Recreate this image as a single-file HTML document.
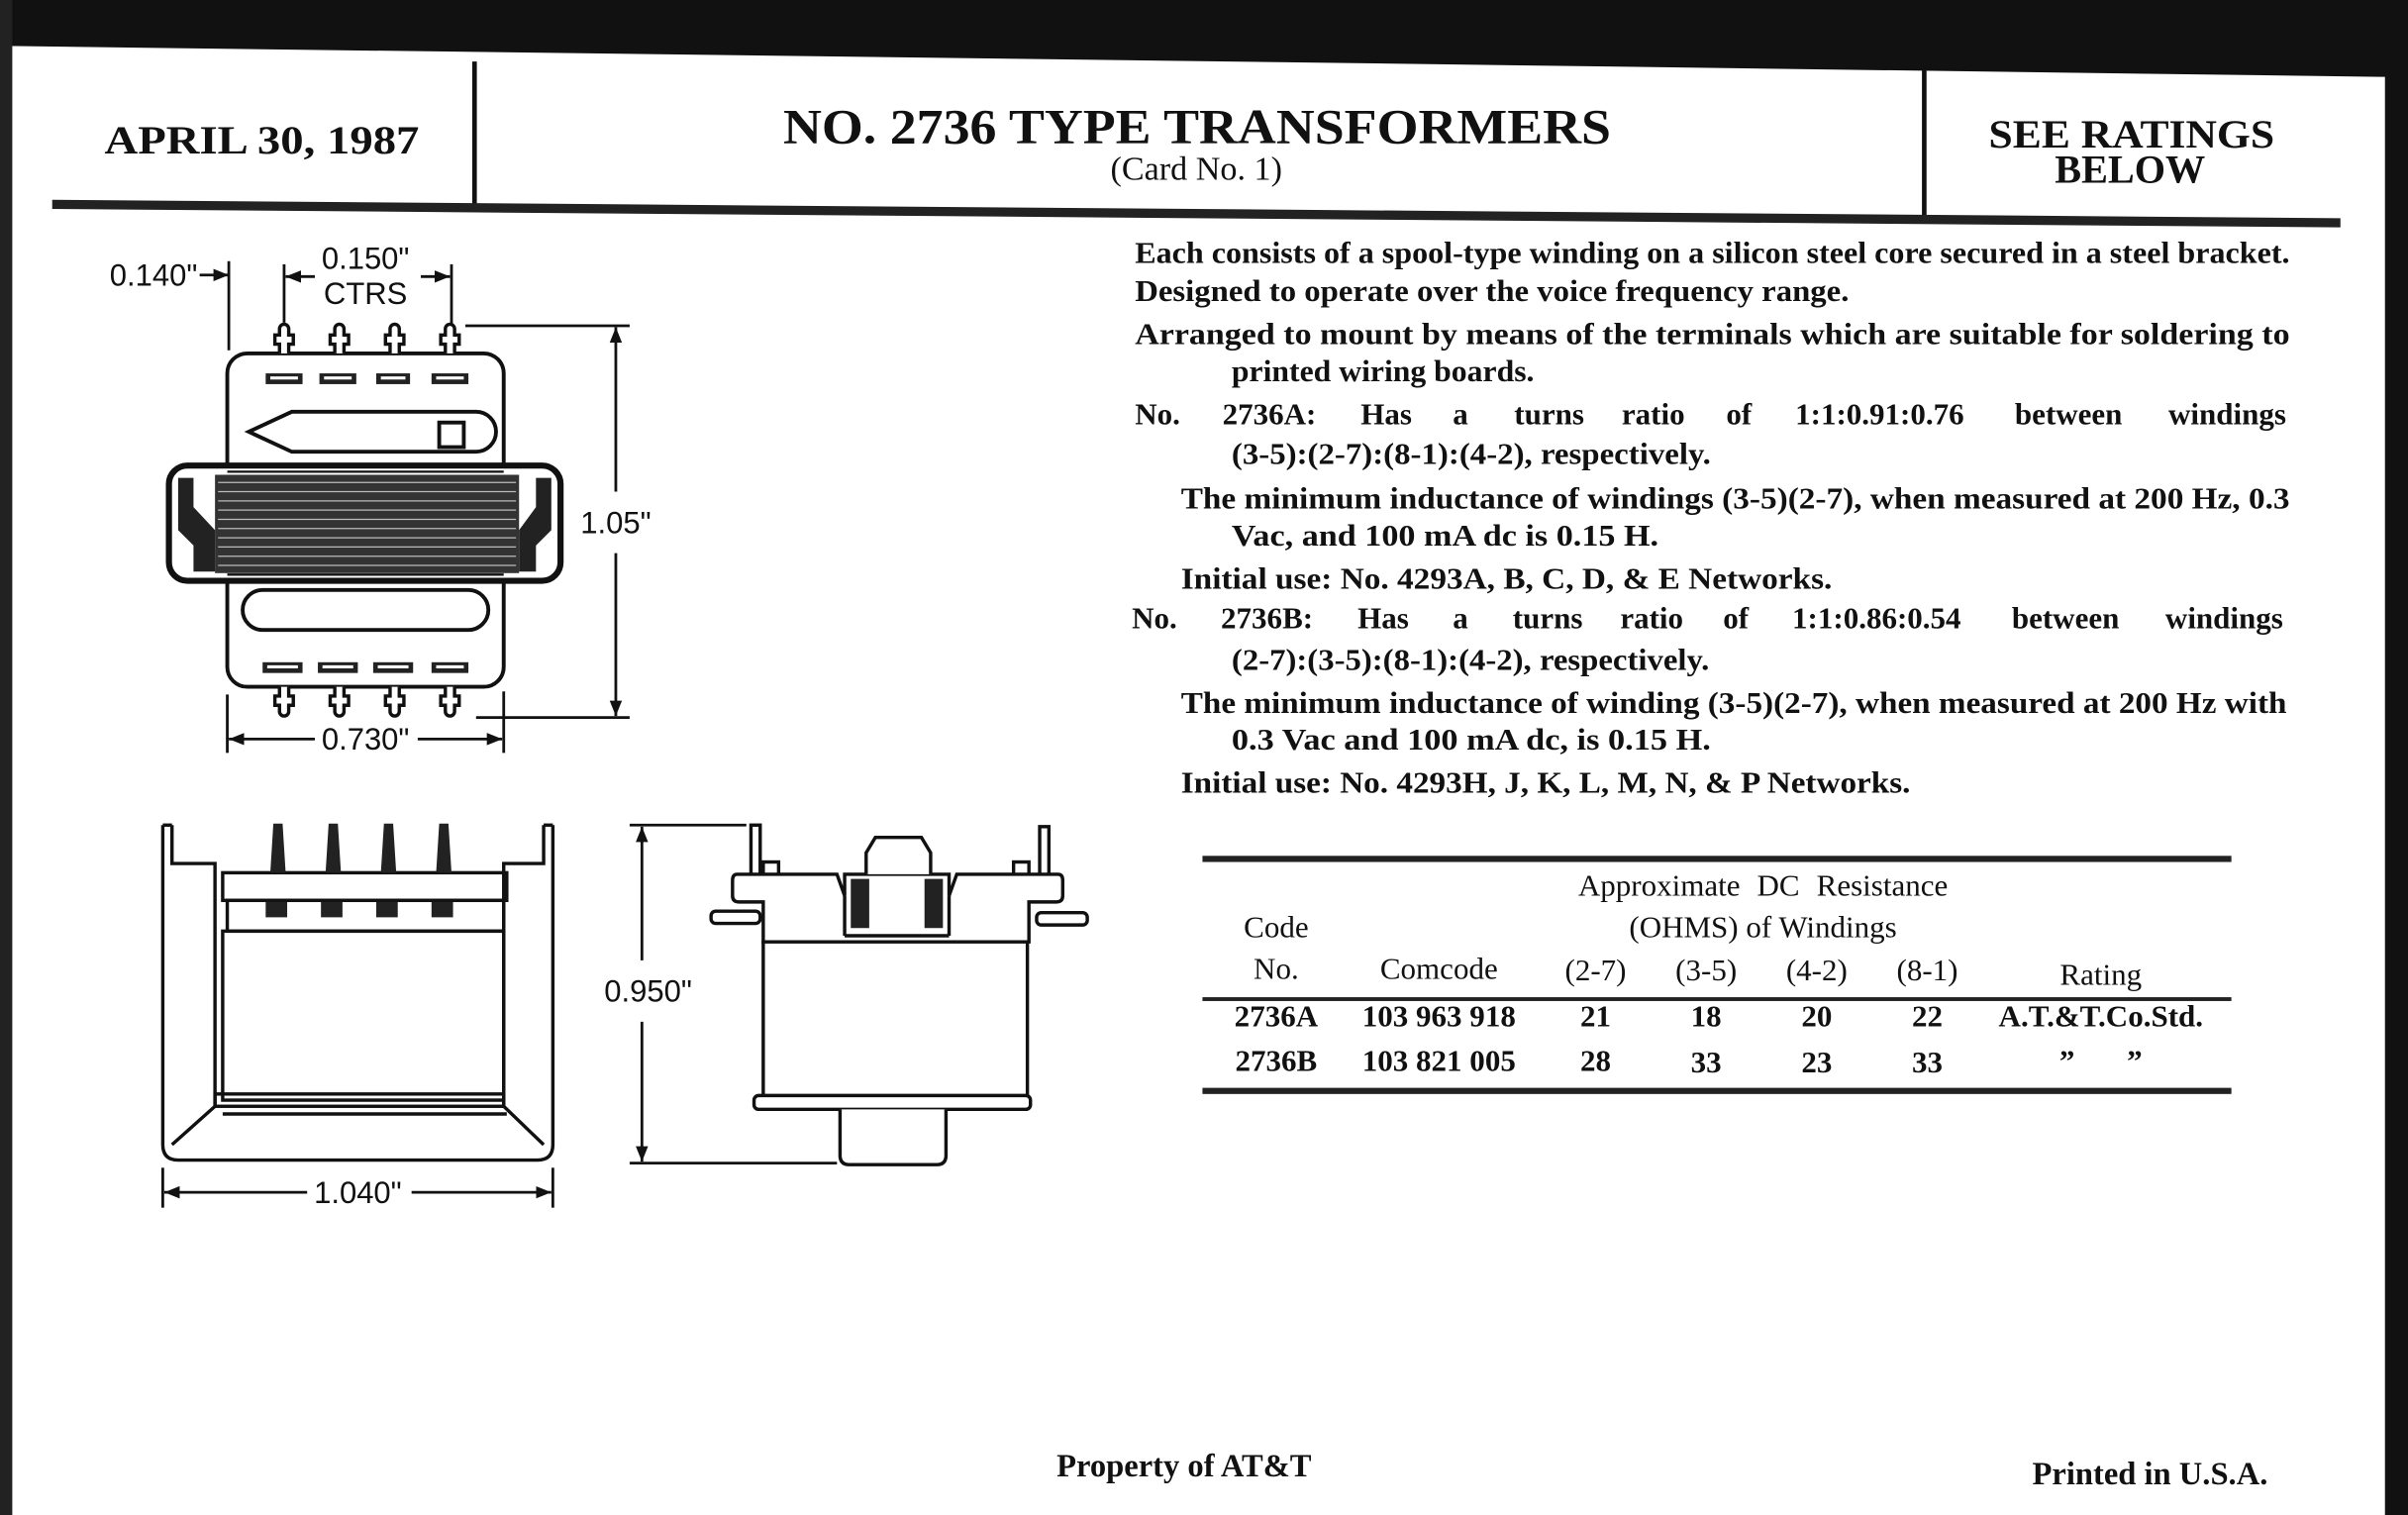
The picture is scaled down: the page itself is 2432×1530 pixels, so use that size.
<!DOCTYPE html>
<html><head><meta charset="utf-8"><style>
html,body{margin:0;padding:0;background:#fff;}
svg{display:block;}
text{font-family:"Liberation Serif",serif;fill:#111;}
svg text.s{font-family:"Liberation Sans",sans-serif;font-weight:normal;}
.b{font-weight:bold;}
</style></head><body>
<svg width="2432" height="1530" viewBox="0 0 1568 986" preserveAspectRatio="none" xmlns="http://www.w3.org/2000/svg">
<rect x="0" y="0" width="1568" height="986" fill="#fff"/>
<polygon points="0,0 1568,0 1568,50 1550,50 800,40 10,30 0,30" fill="#111"/>
<rect x="0" y="0" width="8" height="986" fill="#222"/>
<rect x="1553" y="0" width="15" height="986" fill="#111"/>

<!-- header -->
<line x1="309" y1="40" x2="309" y2="133" stroke="#111" stroke-width="3"/>
<line x1="1253" y1="44" x2="1253" y2="141" stroke="#111" stroke-width="3"/>
<polygon points="34,130 1524,142 1524,148 34,136" fill="#222"/>
<text x="68" y="100" font-size="26" class="b" textLength="205" lengthAdjust="spacingAndGlyphs">APRIL 30, 1987</text>
<text x="510" y="93" font-size="32" class="b" textLength="539" lengthAdjust="spacingAndGlyphs">NO. 2736 TYPE TRANSFORMERS</text>
<text x="779" y="117" font-size="22" text-anchor="middle">(Card No. 1)</text>
<text x="1295" y="96" font-size="26" class="b" textLength="186" lengthAdjust="spacingAndGlyphs">SEE RATINGS</text>
<text x="1338" y="119" font-size="26" class="b" textLength="98" lengthAdjust="spacingAndGlyphs">BELOW</text>

<!-- body text -->
<g font-size="20" class="b">
<text x="739" y="171" textLength="752" lengthAdjust="spacingAndGlyphs">Each consists of a spool-type winding on a silicon steel core secured in a steel bracket.</text>
<text x="739" y="196" textLength="465" lengthAdjust="spacingAndGlyphs">Designed to operate over the voice frequency range.</text>
<text x="739" y="224" textLength="752" lengthAdjust="spacingAndGlyphs">Arranged to mount by means of the terminals which are suitable for soldering to</text>
<text x="802" y="248" textLength="197" lengthAdjust="spacingAndGlyphs">printed wiring boards.</text>
<text y="276"><tspan x="739">No.</tspan><tspan x="796">2736A:</tspan><tspan x="886">Has</tspan><tspan x="946">a</tspan><tspan x="986">turns</tspan><tspan x="1056">ratio</tspan><tspan x="1124">of</tspan><tspan x="1169">1:1:0.91:0.76</tspan><tspan x="1312">between</tspan><tspan x="1412">windings</tspan></text>
<text x="802" y="302" textLength="312" lengthAdjust="spacingAndGlyphs">(3-5):(2-7):(8-1):(4-2), respectively.</text>
<text x="769" y="331" textLength="722" lengthAdjust="spacingAndGlyphs">The minimum inductance of windings (3-5)(2-7), when measured at 200 Hz, 0.3</text>
<text x="802" y="355" textLength="278" lengthAdjust="spacingAndGlyphs">Vac, and 100 mA dc is 0.15 H.</text>
<text x="769" y="383" textLength="424" lengthAdjust="spacingAndGlyphs">Initial use: No. 4293A, B, C, D, &amp; E Networks.</text>
<text y="409"><tspan x="737">No.</tspan><tspan x="795">2736B:</tspan><tspan x="884">Has</tspan><tspan x="946">a</tspan><tspan x="985">turns</tspan><tspan x="1055">ratio</tspan><tspan x="1122">of</tspan><tspan x="1167">1:1:0.86:0.54</tspan><tspan x="1310">between</tspan><tspan x="1410">windings</tspan></text>
<text x="802" y="436" textLength="311" lengthAdjust="spacingAndGlyphs">(2-7):(3-5):(8-1):(4-2), respectively.</text>
<text x="769" y="464" textLength="720" lengthAdjust="spacingAndGlyphs">The minimum inductance of winding (3-5)(2-7), when measured at 200 Hz with</text>
<text x="802" y="488" textLength="312" lengthAdjust="spacingAndGlyphs">0.3 Vac and 100 mA dc, is 0.15 H.</text>
<text x="769" y="516" textLength="475" lengthAdjust="spacingAndGlyphs">Initial use: No. 4293H, J, K, L, M, N, &amp; P Networks.</text>
</g>

<!-- table -->
<rect x="783" y="557" width="670" height="4" fill="#222"/>
<rect x="783" y="649" width="670" height="2.5" fill="#222"/>
<rect x="783" y="708" width="670" height="4" fill="#222"/>
<g font-size="20" text-anchor="middle">
<text x="1148" y="583" word-spacing="6">Approximate DC Resistance</text>
<text x="1148" y="610">(OHMS) of Windings</text>
<text x="831" y="610">Code</text>
<text x="831" y="637">No.</text>
<text x="937" y="637">Comcode</text>
<text x="1039" y="638">(2-7)</text>
<text x="1111" y="638">(3-5)</text>
<text x="1183" y="638">(4-2)</text>
<text x="1255" y="638">(8-1)</text>
<text x="1368" y="641">Rating</text>
</g>
<g font-size="20" text-anchor="middle" class="b">
<text x="831" y="668">2736A</text><text x="937" y="668">103 963 918</text>
<text x="1039" y="668">21</text><text x="1111" y="668">18</text><text x="1183" y="668">20</text><text x="1255" y="668">22</text>
<text x="1368" y="668">A.T.&amp;T.Co.Std.</text>
<text x="831" y="697">2736B</text><text x="937" y="697">103 821 005</text>
<text x="1039" y="697">28</text><text x="1111" y="698">33</text><text x="1183" y="698">23</text><text x="1255" y="698">33</text>
<text x="1346" y="697">”</text><text x="1390" y="697">”</text>
</g>

<!-- footer -->
<text x="771" y="961" font-size="21" text-anchor="middle" class="b">Property of AT&amp;T</text>
<text x="1400" y="966" font-size="21" text-anchor="middle" class="b">Printed in U.S.A.</text>

<!-- TOP VIEW DRAWING -->
<defs>
<marker id="ar" viewBox="0 0 10 10" refX="10" refY="5" markerWidth="10" markerHeight="10" markerUnits="userSpaceOnUse" orient="auto-start-reverse"><path d="M0,1 L10,5 L0,9 z" fill="#111"/></marker>
<g id="term"><path d="M-3,0 v-6 h-3 v-6 h3 v-4 a3,3 0 0 1 6,0 v4 h3 v6 h-3 v6" fill="#fff" stroke="#111" stroke-width="2.2"/></g>
</defs>
<g stroke="#111" fill="none" stroke-width="2.5">
<rect x="148" y="230" width="180" height="217" rx="13"/>
<path d="M162,281 L190,268 L310,268 A13,13 0 0 1 310,294 L190,294 Z"/>
<rect x="286" y="275" width="16" height="16"/>
<rect x="158" y="384" width="160" height="26" rx="13"/>
<rect x="110" y="303" width="255" height="75" rx="12" fill="#fff" stroke-width="4"/>
<line x1="148" y1="307" x2="328" y2="307" stroke-width="1.5"/>
<line x1="148" y1="374" x2="328" y2="374" stroke-width="1.5"/>
</g>
<rect x="140" y="309" width="198" height="64" fill="#333"/>
<g stroke="#bbb" stroke-width="0.8">
<line x1="142" y1="314" x2="336" y2="314"/><line x1="142" y1="320" x2="336" y2="320"/><line x1="142" y1="326" x2="336" y2="326"/><line x1="142" y1="332" x2="336" y2="332"/><line x1="142" y1="338" x2="336" y2="338"/><line x1="142" y1="344" x2="336" y2="344"/><line x1="142" y1="350" x2="336" y2="350"/><line x1="142" y1="356" x2="336" y2="356"/><line x1="142" y1="362" x2="336" y2="362"/><line x1="142" y1="368" x2="336" y2="368"/>
</g>
<path d="M116,311 L126,311 L126,330 L140,345 L140,372 L126,372 L126,355 L116,345 Z" fill="#222"/>
<path d="M359,311 L349,311 L349,330 L338,345 L338,372 L349,372 L349,355 L359,345 Z" fill="#222"/>
<g fill="#222">
<rect x="173" y="243" width="24" height="7"/><rect x="208" y="243" width="24" height="7"/><rect x="245" y="243" width="22" height="7"/><rect x="281" y="243" width="24" height="7"/>
<rect x="171" y="431" width="26" height="7"/><rect x="207" y="431" width="26" height="7"/><rect x="243" y="431" width="26" height="7"/><rect x="281" y="431" width="24" height="7"/>
</g>
<g fill="#fff">
<rect x="176" y="245" width="18" height="2"/><rect x="211" y="245" width="18" height="2"/><rect x="248" y="245" width="16" height="2"/><rect x="284" y="245" width="18" height="2"/>
<rect x="174" y="433" width="20" height="2"/><rect x="210" y="433" width="20" height="2"/><rect x="246" y="433" width="20" height="2"/><rect x="284" y="433" width="18" height="2"/>
</g>
<use href="#term" x="185" y="230"/><use href="#term" x="221" y="230"/><use href="#term" x="257" y="230"/><use href="#term" x="293" y="230"/>
<g transform="translate(0,677) scale(1,-1)">
<use href="#term" x="185" y="230"/><use href="#term" x="221" y="230"/><use href="#term" x="257" y="230"/><use href="#term" x="293" y="230"/>
</g>
<!-- dims top view -->
<g stroke="#111" stroke-width="1.8" fill="none">
<line x1="149" y1="170" x2="149" y2="228"/>
<line x1="130" y1="179" x2="149" y2="179" marker-end="url(#ar)"/>
<line x1="185" y1="172" x2="185" y2="210"/>
<line x1="205" y1="180" x2="186" y2="180" marker-end="url(#ar)"/>
<line x1="294" y1="172" x2="294" y2="212"/>
<line x1="274" y1="180" x2="293" y2="180" marker-end="url(#ar)"/>
<line x1="303" y1="212" x2="410" y2="212"/>
<line x1="310" y1="467" x2="410" y2="467"/>
<line x1="401" y1="320" x2="401" y2="213" marker-end="url(#ar)"/>
<line x1="401" y1="360" x2="401" y2="466" marker-end="url(#ar)"/>
<line x1="148" y1="452" x2="148" y2="490"/>
<line x1="328" y1="450" x2="328" y2="490"/>
<line x1="205" y1="481" x2="149" y2="481" marker-end="url(#ar)"/>
<line x1="272" y1="481" x2="327" y2="481" marker-end="url(#ar)"/>
</g>
<g font-size="20" text-anchor="middle">
<text class="s" x="100" y="186">0.140"</text>
<text class="s" x="238" y="175">0.150"</text>
<text class="s" x="238" y="198">CTRS</text>
<text class="s" x="401" y="347" style="paint-order:stroke" stroke="#fff" stroke-width="8">1.05"</text>
<text class="s" x="238" y="488" style="paint-order:stroke" stroke="#fff" stroke-width="6">0.730"</text>
</g>

<!-- LOWER LEFT VIEW -->
<g stroke="#111" stroke-width="2.2" fill="none">
<path d="M106,537 L106,745 Q106,755 116,755 L350,755 Q360,755 360,745 L360,537"/>
<path d="M112,537 L112,562 L140,562 L140,720"/>
<path d="M354,537 L354,562 L328,562 L328,720"/>
<line x1="106" y1="537" x2="112" y2="537"/><line x1="354" y1="537" x2="360" y2="537"/>
<rect x="145" y="568" width="185" height="18"/>
<rect x="148" y="586" width="180" height="20"/>
<rect x="145" y="606" width="183" height="110"/>
<rect x="140" y="712" width="188" height="8"/>
<path d="M112,745 L140,720 M354,745 L328,720"/>
<line x1="145" y1="725" x2="330" y2="725"/>
</g>
<g fill="#222">
<path d="M176,568 L178,536 L184,536 L186,568 Z"/><path d="M212,568 L214,536 L220,536 L222,568 Z"/><path d="M248,568 L250,536 L256,536 L258,568 Z"/><path d="M284,568 L286,536 L292,536 L294,568 Z"/>
<rect x="173" y="587" width="14" height="10"/><rect x="209" y="587" width="14" height="10"/><rect x="245" y="587" width="14" height="10"/><rect x="281" y="587" width="14" height="10"/>
</g>
<g stroke="#111" stroke-width="1.8">
<line x1="106" y1="760" x2="106" y2="786"/><line x1="360" y1="760" x2="360" y2="786"/>
<line x1="200" y1="776" x2="107" y2="776" marker-end="url(#ar)"/>
<line x1="268" y1="776" x2="359" y2="776" marker-end="url(#ar)"/>
</g>
<text class="s" x="233" y="783" font-size="20" text-anchor="middle">1.040"</text>

<!-- RIGHT VIEW -->
<g stroke="#111" stroke-width="2.2" fill="#fff">
<rect x="489" y="537" width="6" height="34"/>
<rect x="677" y="538" width="6" height="33"/>
<rect x="497" y="561" width="10" height="9"/><rect x="660" y="561" width="10" height="9"/>
<rect x="463" y="593" width="32" height="8" rx="3"/>
<rect x="675" y="594" width="33" height="8" rx="3"/>
<path d="M480,569 L545,569 L550,583 L550,569 L618,569 L618,583 L623,569 L689,569 Q692,569 692,573 L692,583 Q692,587 688,587 L670,587 L670,613 L497,613 L497,587 L481,587 Q477,587 477,583 L477,573 Q477,569 480,569 Z"/>
<path d="M564,569 L564,555 L570,545 L600,545 L606,555 L606,569"/>
<rect x="497" y="613" width="172" height="102"/>
<rect x="491" y="713" width="180" height="9" rx="3"/>
<path d="M547,722 L547,752 Q547,758 553,758 L610,758 Q616,758 616,752 L616,722"/>
<line x1="550" y1="583" x2="550" y2="609"/><line x1="618" y1="583" x2="618" y2="609"/><line x1="550" y1="609" x2="618" y2="609"/>
</g>
<rect x="554" y="572" width="12" height="32" fill="#222"/>
<rect x="602" y="572" width="12" height="32" fill="#222"/>
<g stroke="#111" stroke-width="1.8">
<line x1="410" y1="537" x2="486" y2="537"/>
<line x1="410" y1="757" x2="545" y2="757"/>
<line x1="418" y1="625" x2="418" y2="538" marker-end="url(#ar)"/>
<line x1="418" y1="665" x2="418" y2="756" marker-end="url(#ar)"/>
</g>
<text class="s" x="422" y="652" font-size="20" text-anchor="middle">0.950"</text>
</svg>
</body></html>
